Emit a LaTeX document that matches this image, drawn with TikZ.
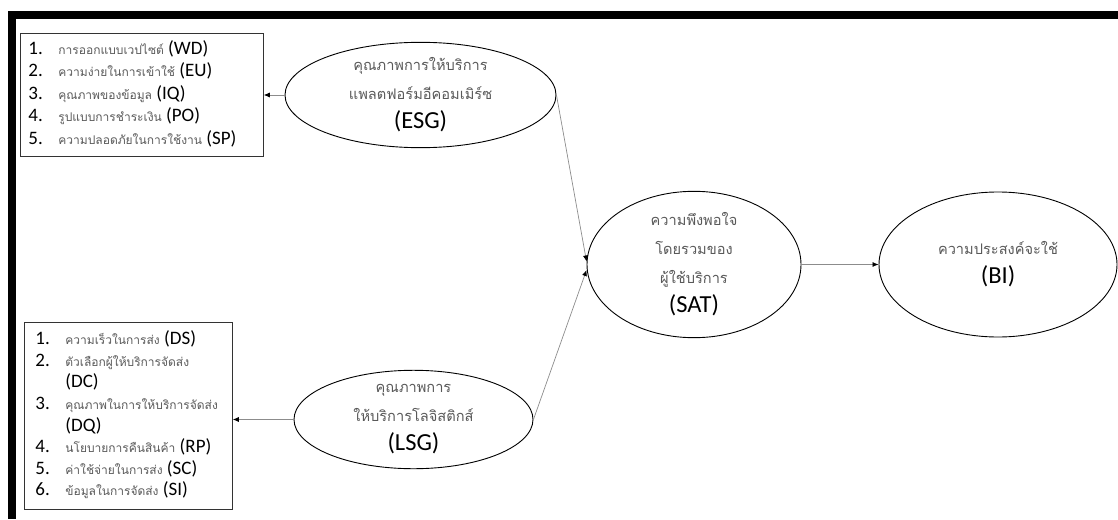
\documentclass[tikz,border=0pt]{standalone}
\usepackage{fontspec}
\setmainfont{Carlito}
\newfontfamily\thaifont[Script=Thai]{Loma}
\usepackage{xcolor}
\usetikzlibrary{shapes.geometric, arrows.meta}

\definecolor{thgray}{HTML}{595959}
\definecolor{linegray}{HTML}{8C8C8C}
\newcommand{\thtxt}[1]{\leavevmode{\thaifont\fontsize{12}{20}\selectfont\color{thgray}#1}}
\newcommand{\thline}[1]{{\thaifont\fontsize{14.6}{29}\selectfont\color{thgray}#1}}

\begin{document}
\begin{tikzpicture}[x=1pt, y=-1pt,
	construct/.style={draw, ellipse, line width=0.9pt, inner sep=0pt, align=center,
		font=\fontsize{24.5}{29}\selectfont},
	itembox/.style={draw=black!80, line width=0.8pt, anchor=north west, inner ysep=0pt},
	link/.style={draw=linegray, line width=0.7pt, -{Latex[length=6pt, width=5pt, color=black]}}]
		\useasboundingbox (0,0) rectangle (1118,519);
		% frame
		\fill (8,11) rectangle (1118,19);
		\fill (8,11) rectangle (16,519);
		% indicator boxes
		\node[itembox, inner xsep=8.5pt, minimum width=243.5pt, minimum height=123pt,
			font=\fontsize{19}{22.5}\selectfont] (esgbox) at (19.5,33){\makebox[226.5pt][l]{\begin{tabular}{@{}p{30pt}@{}l@{}}
			1. & \thtxt{การออกแบบเวปไซต์} (WD)\\
			2. & \thtxt{ความง่ายในการเข้าใช้} (EU)\\
			3. & \thtxt{คุณภาพของข้อมูล} (IQ)\\
			4. & \thtxt{รูปแบบการชำระเงิน} (PO)\\
			5. & \thtxt{ความปลอดภัยในการใช้งาน} (SP)
			\end{tabular}}};
		\node[itembox, inner xsep=11pt, minimum width=208pt, minimum height=187pt,
			font=\fontsize{19}{21.6}\selectfont] (lsgbox) at (24,322){\makebox[186pt][l]{\begin{tabular}{@{}p{30pt}@{}l@{}}
			1. & \thtxt{ความเร็วในการส่ง} (DS)\\
			2. & \thtxt{ตัวเลือกผู้ให้บริการจัดส่ง}\\
			   & (DC)\\
			3. & \thtxt{คุณภาพในการให้บริการจัดส่ง}\\
			   & (DQ)\\
			4. & \thtxt{นโยบายการคืนสินค้า} (RP)\\
			5. & \thtxt{ค่าใช้จ่ายในการส่ง} (SC)\\
			6. & \thtxt{ข้อมูลในการจัดส่ง} (SI)
			\end{tabular}}};
		% constructs
		\node[construct, minimum width=271pt, minimum height=104pt] (esg) at (420.5,95)
			{\thline{คุณภาพการให้บริการ}\\ \thline{แพลตฟอร์มอีคอมเมิร์ซ}\\ (ESG)};
		\node[construct, minimum width=239pt, minimum height=95pt] (lsg) at (413.5,419.5)
			{\thline{คุณภาพการ}\\ \thline{ให้บริการโลจิสติกส์}\\ (LSG)};
		\node[construct, minimum width=214pt, minimum height=145pt] (sat) at (694,264.5)
			{\thline{ความพึงพอใจ}\\ \thline{โดยรวมของ}\\ \thline{ผู้ใช้บริการ}\\ (SAT)};
		\node[construct, minimum width=238pt, minimum height=145pt] (bi) at (998,264.5)
			{\thline{ความประสงค์จะใช้}\\ (BI)};
		% paths
		\draw[link] (esg.west) -- (esg.west -| esgbox.east);
		\draw[link] (lsg.west) -- (lsg.west -| lsgbox.east);
		\draw[link] (esg.east) -- ([yshift=3pt]sat.west);
		\draw[link] (lsg.east) -- ([yshift=-5.5pt]sat.west);
		\draw[link] (sat) -- (bi);
	\end{tikzpicture}
\end{document}
